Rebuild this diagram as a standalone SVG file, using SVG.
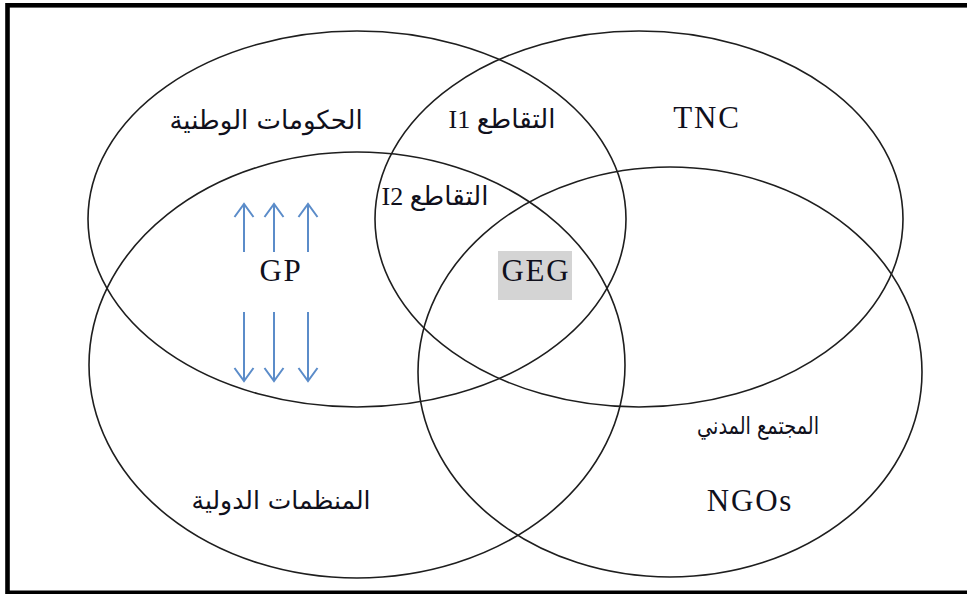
<svg xmlns="http://www.w3.org/2000/svg" width="967" height="594" viewBox="0 0 967 594">
<style>
.set{fill:none;stroke:#1e1e1e;stroke-width:1.6}
.lat{font-family:"Liberation Serif","DejaVu Serif",serif;font-size:31px;fill:#10101c;text-anchor:middle;letter-spacing:1.8px}
.ar{font-family:"DejaVu Sans","Noto Sans",sans-serif;font-size:24px;fill:#10101c;text-anchor:middle}
.mix{font-family:"Liberation Serif","DejaVu Sans",serif;font-size:26px;fill:#10101c;text-anchor:middle}
.arr{stroke:#5b8cc9;stroke-width:2;fill:none}
</style>
<defs>
<marker id="head" markerUnits="userSpaceOnUse" markerWidth="30" markerHeight="30" viewBox="-15 -15 30 30" refX="0" refY="0" orient="auto" overflow="visible">
<path d="M-13,-9.5 L0,0 L-13,9.5" fill="none" stroke="#5b8cc9" stroke-width="2"/>
</marker>
</defs>
<rect x="0" y="0" width="967" height="594" fill="#ffffff"/>
<rect x="7.5" y="5.3" width="975" height="587.5" fill="none" stroke="#000" stroke-width="4.6"/>
<g id="national-governments">
<ellipse class="set" cx="357" cy="219" rx="269" ry="188"/>
<text class="ar" x="266" y="129" direction="rtl" style="font-size:26px">الحكومات الوطنية</text>
</g>
<g id="tnc">
<ellipse class="set" cx="639" cy="219" rx="264" ry="188"/>
<text class="lat" x="707" y="128">TNC</text>
</g>
<g id="international-organizations">
<ellipse class="set" cx="357" cy="365" rx="268" ry="213"/>
<text class="ar" x="281" y="509" direction="rtl" style="font-size:25px">المنظمات الدولية</text>
</g>
<g id="civil-society">
<ellipse class="set" cx="670" cy="372" rx="252" ry="205"/>
<text class="ar" x="758" y="434" direction="rtl" textLength="122" lengthAdjust="spacingAndGlyphs">المجتمع المدني</text>
<text class="lat" x="750" y="511">NGOs</text>
</g>
<g id="intersection-i1">
<text class="mix" x="502" y="128" direction="rtl">التقاطع I1</text>
</g>
<g id="intersection-i2">
<text class="mix" x="435" y="205" direction="rtl">التقاطع I2</text>
</g>
<g id="gp">
<text class="lat" x="281" y="281">GP</text>
</g>
<g id="geg">
<rect x="498" y="251" width="74" height="49" fill="#d4d4d4"/>
<text class="lat" x="536" y="281">GEG</text>
</g>
<g id="connectors">
<line class="arr" x1="244" y1="252" x2="244" y2="204" marker-end="url(#head)"/>
<line class="arr" x1="274" y1="252" x2="274" y2="204" marker-end="url(#head)"/>
<line class="arr" x1="308" y1="252" x2="308" y2="204" marker-end="url(#head)"/>
<line class="arr" x1="244" y1="312" x2="244" y2="381" marker-end="url(#head)"/>
<line class="arr" x1="274" y1="312" x2="274" y2="381" marker-end="url(#head)"/>
<line class="arr" x1="308" y1="312" x2="308" y2="381" marker-end="url(#head)"/>
</g>
</svg>
